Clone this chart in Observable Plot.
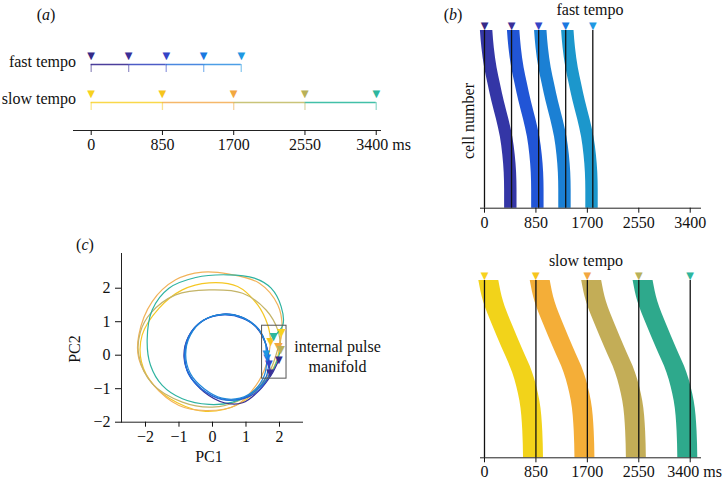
<!DOCTYPE html>
<html><head><meta charset="utf-8">
<script src="https://cdn.jsdelivr.net/npm/d3@7"></script>
<script src="https://cdn.jsdelivr.net/npm/@observablehq/plot@0.6"></script>
<style>
body{margin:0;background:#fff;}
#root{position:relative;width:726px;height:486px;overflow:hidden;font-family:"Liberation Serif","Times New Roman","DejaVu Serif","Noto Serif",serif;color:#111;}
#root svg{position:absolute;overflow:visible;}
.lbl{position:absolute;font-size:16px;line-height:1;white-space:nowrap;}
</style></head><body><div id="root"></div>
<script>
// ---------- data ----------
const ticksMs = [0, 850, 1700, 2550, 3400];
const unit = "ms";
const fastOnsets = [0, 447, 895, 1342, 1790];
const slowOnsets = [0, 850, 1700, 2550, 3400];

const fastMarkerColors = ["#352a87", "#3a2f97", "#3444c6", "#1a78e0", "#1e98e2"];
const slowMarkerColors = ["#f7d21f", "#f6c51c", "#f2a740", "#b9b158", "#2db69d"];
const fastSegColors = ["#4b3f9c", "#4c5cc6", "#4a88e0", "#4c9ee6"];
const slowSegColors = ["#f9d84a", "#f5b86a", "#c9c479", "#42c0a8"];
const fastBandColors = ["#3436a6", "#2155d6", "#1b80d4", "#1c97cc"];
const slowBandColors = ["#f2d31a", "#f4ae38", "#c3ad57", "#2ea98c"];
const fastLoopColors = ["#3a2f95", "#2a52d0", "#1f6fd8", "#2088d8"];
const slowLoopColors = ["#f5c724", "#f2b35a", "#c4b468", "#2fb3a0"];

// band profile: [cell fraction from top, delay of band centre after beat (ms)]
const fastProfile = [[0, 35], [0.1, 60], [0.21, 105], [0.3, 160], [0.4, 225], [0.5, 300], [0.6, 365], [0.7, 405], [0.8, 428], [0.9, 435], [1, 435]];
const fastBandWidth = 205;
const slowProfile = [[0, 71], [0.12, 150], [0.25, 295], [0.38, 455], [0.52, 630], [0.68, 750], [0.85, 798], [1, 810]];
const slowBandWidth = 330;

// PCA trajectories (PC1, PC2)
const fastLoops = [
  [[1.98,-0.14],[1.75,-0.6],[1.4,-1.05],[0.9,-1.42],[0.35,-1.42],[-0.25,-1.1],[-0.68,-0.6],[-0.85,-0.05],[-0.72,0.55],[-0.3,1.02],[0.3,1.22],[0.88,1.13],[1.32,0.82],[1.6,0.3],[1.72,-0.52]],
  [[1.72,-0.52],[1.55,-0.85],[1.25,-1.15],[0.8,-1.32],[0.25,-1.3],[-0.3,-1.02],[-0.72,-0.55],[-0.82,0.0],[-0.68,0.6],[-0.25,1.05],[0.35,1.2],[0.9,1.1],[1.35,0.8],[1.62,0.25],[1.68,-0.25]],
  [[1.68,-0.25],[1.6,-0.65],[1.3,-1.05],[0.85,-1.3],[0.3,-1.33],[-0.28,-1.05],[-0.7,-0.58],[-0.84,-0.02],[-0.7,0.58],[-0.28,1.04],[0.32,1.23],[0.92,1.12],[1.38,0.78],[1.6,0.3],[1.63,-0.08]],
  [[1.63,-0.08],[1.55,-0.6],[1.28,-1.02],[0.82,-1.28],[0.28,-1.28],[-0.25,-1.0],[-0.66,-0.55],[-0.8,0.02],[-0.66,0.6],[-0.24,1.06],[0.36,1.22],[0.95,1.1],[1.38,0.76],[1.58,0.36],[1.6,0.05]]
];
const fastLoopMarkers = [[1.98,-0.14],[1.72,-0.52],[1.68,-0.25],[1.63,-0.08],[1.6,0.05]];
const slowLoops = [
  [[2.06,0.68],[1.9,-0.2],[1.5,-0.85],[0.8,-1.45],[-0.2,-1.68],[-1.05,-1.42],[-1.75,-0.9],[-2.12,-0.2],[-2.1,0.6],[-1.6,1.4],[-0.9,1.95],[-0.1,2.16],[0.75,2.05],[1.35,1.5],[1.65,0.9],[1.74,0.42]],
  [[1.74,0.42],[1.6,-0.3],[1.3,-0.9],[0.7,-1.5],[-0.2,-1.65],[-1.0,-1.5],[-1.75,-0.9],[-2.2,-0.1],[-2.2,0.6],[-1.8,1.6],[-1.1,2.25],[-0.3,2.48],[0.5,2.42],[1.4,2.15],[1.95,1.5],[2.08,0.8],[1.97,0.26]],
  [[1.97,0.26],[1.7,-0.5],[1.3,-1.0],[0.8,-1.35],[0.0,-1.55],[-0.9,-1.4],[-1.8,-0.85],[-2.2,0.0],[-2.15,0.7],[-1.85,1.25],[-1.1,1.8],[-0.1,1.95],[0.9,1.85],[1.6,1.35],[1.95,0.75],[2.04,0.16]],
  [[2.04,0.16],[1.75,-0.55],[1.3,-1.05],[0.6,-1.4],[-0.1,-1.47],[-0.9,-1.3],[-1.5,-0.9],[-1.85,-0.3],[-1.95,0.45],[-1.8,1.35],[-1.3,2.0],[-0.5,2.32],[0.45,2.4],[1.25,2.3],[1.75,2.0],[2.05,1.45],[2.1,0.9],[1.82,0.56]]
];
const slowLoopMarkers = [[2.06,0.68],[1.74,0.42],[1.97,0.26],[2.04,0.16],[1.82,0.56]];
const pcTicks = [-2, -1, 0, 1, 2];
const manifoldBox = [{x1: 1.48, x2: 2.21, y1: -0.70, y2: 0.88}];

// ---------- helpers ----------
const root = document.getElementById("root");
const SERIF = "'Liberation Serif', 'Times New Roman', 'DejaVu Serif', 'Noto Serif', serif";
const FONT = {fontFamily: SERIF, fontSize: "16px", background: "transparent", color: "#111", overflow: "visible"};
function place(svg, left, top) { svg.style.left = left + "px"; svg.style.top = top + "px"; root.appendChild(svg); }
function label(html, x, y, anchor = "middle", rotate = 0) {
  const d = document.createElement("div");
  d.className = "lbl"; d.innerHTML = html;
  d.style.left = x + "px"; d.style.top = y + "px";
  const tx = anchor === "end" ? "-100%" : anchor === "start" ? "0" : "-50%";
  d.style.transform = `translate(${tx},-50%)` + (rotate ? ` rotate(${rotate}deg)` : "");
  d.style.transformOrigin = "50% 50%";
  root.appendChild(d);
  return d;
}
const fmt = d => d < 0 ? "\u2212" + (-d) : String(d);
const tri = "\u25BC";

// ---------- panel (a) ----------
function rowMarks(onsets, row, segColors, markColors) {
  const marks = [];
  for (let i = 0; i < onsets.length - 1; i++) {
    marks.push(Plot.ruleY([row], {y: d => d, x1: onsets[i], x2: onsets[i + 1], stroke: segColors[i], strokeWidth: 1.6}));
  }
  onsets.forEach((t, i) => {
    marks.push(Plot.ruleX([t], {x: d => d, y1: row, y2: row - 0.21, stroke: markColors[i], strokeOpacity: 0.5, strokeWidth: 1.3}));
    marks.push(Plot.text([t], {x: d => d, y: row, text: () => tri, fill: markColors[i], dy: -9, fontSize: 10, fontFamily: "DejaVu Sans"}));
  });
  return marks;
}
const plotA = Plot.plot({
  width: 400, height: 160, marginLeft: 73, marginRight: 20, marginTop: 0, marginBottom: 30,
  x: {domain: [-211, 3451]},
  y: {domain: [0, 3], range: [140, 26], axis: null},
  style: FONT,
  marks: [
    Plot.frame({anchor: "bottom", stroke: "#222"}),
    Plot.axisX({ticks: ticksMs, tickSize: 5, tickPadding: 3, tickFormat: d => d === ticksMs[ticksMs.length - 1] ? "" : String(d)}),
    Plot.text([ticksMs[ticksMs.length - 1]], {x: d => d, text: d => d + " " + unit, frameAnchor: "bottom", lineAnchor: "top", dy: 8, textAnchor: "start", dx: -20}),
    ...rowMarks(fastOnsets, 2, fastSegColors, fastMarkerColors),
    ...rowMarks(slowOnsets, 1, slowSegColors, slowMarkerColors)
  ]
});
place(plotA, 0, 0);
label("(<i>a</i>)", 46, 15);
label("fast tempo", 76, 62, "end");
label("slow tempo", 76, 99, "end");

// ---------- panel (b) ----------
function bandPlot({onsets, profile, bw, bandColors, markColors, height, marginTop, marginBottom, lastWithUnit}) {
  const marks = [];
  for (let i = 0; i < onsets.length - 1; i++) {
    const data = profile.map(([f, off]) => ({y: f, x1: onsets[i] + off - bw / 2, x2: onsets[i] + off + bw / 2}));
    marks.push(Plot.areaX(data, {y: "y", x1: "x1", x2: "x2", fill: bandColors[i], curve: "monotone-y"}));
  }
  marks.push(Plot.ruleX(onsets, {stroke: "#111", strokeWidth: 1.3}));
  onsets.forEach((t, i) => marks.push(Plot.text([t], {x: d => d, text: () => tri, fill: markColors[i], frameAnchor: "top", dy: -9, fontSize: 10, fontFamily: "DejaVu Sans"})));
  marks.push(Plot.frame({anchor: "bottom", stroke: "#222"}));
  const last = ticksMs[ticksMs.length - 1];
  marks.push(Plot.axisX({ticks: ticksMs, tickSize: 5, tickPadding: 3, tickFormat: d => (lastWithUnit && d === last) ? "" : String(d)}));
  if (lastWithUnit) marks.push(Plot.text([last], {x: d => d, text: d => d + " " + unit, frameAnchor: "bottom", lineAnchor: "top", dy: 8, textAnchor: "start", dx: -23}));
  return Plot.plot({
    width: 326, height, marginLeft: 80, marginRight: 26, marginTop, marginBottom,
    x: {domain: [-66, 3570]},
    y: {domain: [1, 0], axis: null},
    style: FONT,
    marks
  });
}
place(bandPlot({onsets: fastOnsets, profile: fastProfile, bw: fastBandWidth, bandColors: fastBandColors, markColors: fastMarkerColors, height: 230, marginTop: 30, marginBottom: 22.3, lastWithUnit: false}), 400, 0);
place(bandPlot({onsets: slowOnsets, profile: slowProfile, bw: slowBandWidth, bandColors: slowBandColors, markColors: slowMarkerColors, height: 246, marginTop: 40, marginBottom: 28.7, lastWithUnit: true}), 400, 240);
label("(<i>b</i>)", 453, 15);
label("fast tempo", 590, 10);
label("slow tempo", 586, 261);
label("cell number", 469, 121, "middle", -90);

// ---------- panel (c) ----------
const cMarks = [
  Plot.frame({anchor: "left", stroke: "#222"}),
  Plot.frame({anchor: "bottom", stroke: "#222"}),
  Plot.axisX({ticks: pcTicks, tickSize: 5, tickPadding: 3, tickFormat: fmt}),
  Plot.axisY({ticks: pcTicks, tickSize: 6, tickPadding: 5, tickFormat: fmt})
];
slowLoops.forEach((pts, i) => cMarks.push(Plot.line(pts, {x: d => d[0], y: d => d[1], stroke: slowLoopColors[i], strokeWidth: 1.2, curve: "catmull-rom"})));
fastLoops.forEach((pts, i) => cMarks.push(Plot.line(pts, {x: d => d[0], y: d => d[1], stroke: fastLoopColors[i], strokeWidth: 1.2, curve: "catmull-rom"})));
cMarks.push(Plot.rect(manifoldBox, {x1: "x1", x2: "x2", y1: "y1", y2: "y2", fill: "none", stroke: "#555", strokeWidth: 1}));
slowLoopMarkers.forEach((p, i) => cMarks.push(Plot.text([p], {x: d => d[0], y: d => d[1], text: () => tri, fill: slowMarkerColors[i], fontSize: 11, fontFamily: "DejaVu Sans"})));
fastLoopMarkers.forEach((p, i) => cMarks.push(Plot.text([p], {x: d => d[0], y: d => d[1], text: () => tri, fill: fastMarkerColors[i], fontSize: 10, fontFamily: "DejaVu Sans"})));
const plotC = Plot.plot({
  width: 400, height: 256, marginLeft: 121, marginRight: 98, marginTop: 23, marginBottom: 64.3,
  x: {domain: [-2.716, 2.687]},
  y: {domain: [-2.0, 3.036]},
  style: FONT,
  marks: cMarks
});
place(plotC, 0, 230);
label("(<i>c</i>)", 85, 245);
label("PC1", 209, 457);
label("PC2", 75, 349, "middle", -90);
label("internal pulse", 337.5, 347);
label("manifold", 337.5, 367);
</script></body></html>
